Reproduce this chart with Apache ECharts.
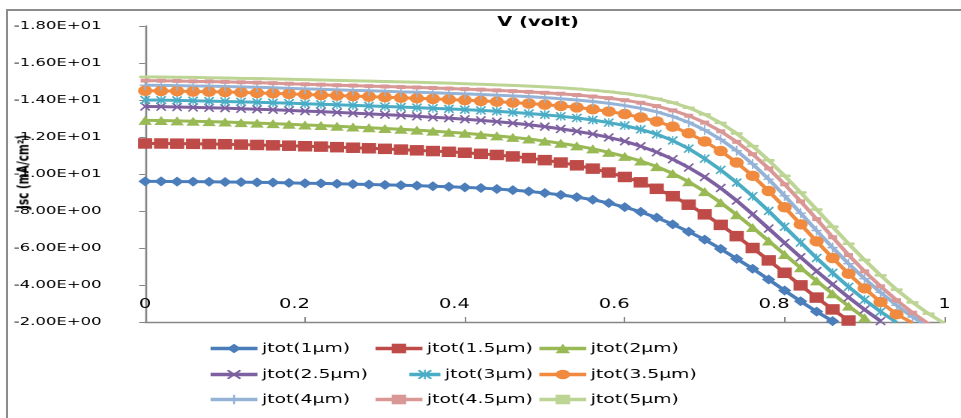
<!DOCTYPE html>
<html><head><meta charset="utf-8">
<script src="https://cdn.jsdelivr.net/npm/echarts@6/dist/echarts.min.js"></script>
<style>
html,body{margin:0;padding:0;background:#fff;overflow:hidden;width:961px;height:418px;position:relative}
#wrap{position:absolute;left:0;top:0;width:641px;height:418px;transform:scaleX(1.49922);transform-origin:0 0}
#chart{width:641px;height:418px}
#ytitle{position:absolute;left:14.7px;top:172px;transform:translate(-50%,-50%) rotate(-90deg);white-space:nowrap;
  font-family:'DejaVu Sans',sans-serif;font-weight:bold;font-size:10.5px;color:#000;pointer-events:none}
#frame{position:absolute;left:6px;top:9px;width:2000px;height:1000px;border-left:2px solid #8c8c8c;border-top:2px solid #8c8c8c;pointer-events:none}
</style>
</head><body><div id="wrap"><div id="chart"></div><div id="ytitle">Jsc (mA/cm²)</div></div><div id="frame"></div>
<script>
// ---- data ----
const voltage = [0,0.02,0.04,0.06,0.08,0.1,0.12,0.14,0.16,0.18,0.2,0.22,0.24,0.26,0.28,0.3,0.32,0.34,0.36,0.38,0.4,0.42,0.44,0.46,0.48,0.5,0.52,0.54,0.56,0.58,0.6,0.62,0.64,0.66,0.68,0.7,0.72,0.74,0.76,0.78,0.8,0.82,0.84,0.86,0.88,0.9,0.92,0.94,0.96,0.98,1];
const seriesNames = ['jtot(1µm)','jtot(1.5µm)','jtot(2µm)','jtot(2.5µm)','jtot(3µm)','jtot(3.5µm)','jtot(4µm)','jtot(4.5µm)','jtot(5µm)'];
const jtot1 = [-9.60,-9.60,-9.59,-9.59,-9.58,-9.57,-9.56,-9.55,-9.54,-9.52,
 -9.50,-9.49,-9.47,-9.45,-9.43,-9.41,-9.39,-9.37,-9.34,-9.31,
 -9.28,-9.24,-9.19,-9.13,-9.06,-8.97,-8.87,-8.75,-8.61,-8.43,
 -8.21,-7.95,-7.64,-7.28,-6.88,-6.45,-5.95,-5.42,-4.88,-4.30,
 -3.70,-3.12,-2.56,-2.05];
const jtot15 = [-11.65,-11.65,-11.64,-11.63,-11.62,-11.61,-11.59,-11.57,-11.55,-11.53,
 -11.50,-11.48,-11.45,-11.42,-11.39,-11.36,-11.32,-11.28,-11.24,-11.20,
 -11.15,-11.09,-11.03,-10.95,-10.86,-10.75,-10.62,-10.47,-10.29,-10.08,
 -9.84,-9.55,-9.20,-8.80,-8.34,-7.82,-7.25,-6.64,-6.00,-5.33,
 -4.66,-3.98,-3.32,-2.68,-2.08];
const jtot2 = [-12.90,-12.89,-12.87,-12.85,-12.83,-12.81,-12.78,-12.75,-12.72,-12.69,
 -12.65,-12.62,-12.58,-12.54,-12.50,-12.46,-12.42,-12.37,-12.32,-12.26,
 -12.20,-12.13,-12.06,-11.98,-11.89,-11.78,-11.66,-11.52,-11.36,-11.17,
 -10.95,-10.70,-10.40,-10.03,-9.58,-9.05,-8.45,-7.80,-7.11,-6.38,
 -5.65,-4.93,-4.22,-3.53,-2.86,-2.22];
const jtot25 = [-13.65,-13.64,-13.62,-13.60,-13.58,-13.56,-13.53,-13.50,-13.47,-13.44,
 -13.40,-13.37,-13.33,-13.29,-13.25,-13.21,-13.17,-13.12,-13.07,-13.02,
 -12.96,-12.90,-12.83,-12.75,-12.66,-12.56,-12.44,-12.31,-12.16,-11.98,
 -11.77,-11.50,-11.18,-10.80,-10.35,-9.84,-9.24,-8.56,-7.82,-7.05,
 -6.27,-5.50,-4.75,-4.03,-3.33,-2.67,-2.05];
const jtot3 = [-14.00,-13.99,-13.98,-13.96,-13.94,-13.92,-13.90,-13.88,-13.85,-13.83,
 -13.80,-13.77,-13.74,-13.71,-13.68,-13.65,-13.62,-13.59,-13.55,-13.52,
 -13.48,-13.44,-13.39,-13.33,-13.27,-13.20,-13.12,-13.03,-12.92,-12.78,
 -12.62,-12.41,-12.15,-11.81,-11.37,-10.83,-10.22,-9.54,-8.80,-8.00,
 -7.15,-6.30,-5.46,-4.66,-3.90,-3.20,-2.56,-1.98];
const jtot35 = [-14.50,-14.49,-14.48,-14.46,-14.45,-14.43,-14.41,-14.38,-14.36,-14.33,
 -14.30,-14.27,-14.24,-14.21,-14.18,-14.15,-14.12,-14.09,-14.06,-14.03,
 -13.99,-13.95,-13.91,-13.86,-13.81,-13.75,-13.68,-13.60,-13.50,-13.38,
 -13.24,-13.06,-12.84,-12.56,-12.20,-11.76,-11.24,-10.62,-9.90,-9.08,
 -8.20,-7.28,-6.36,-5.46,-4.61,-3.82,-3.08,-2.42,-1.95];
const jtot4 = [-14.80,-14.79,-14.78,-14.76,-14.75,-14.73,-14.71,-14.69,-14.66,-14.63,
 -14.60,-14.58,-14.55,-14.52,-14.50,-14.47,-14.44,-14.42,-14.39,-14.36,
 -14.33,-14.30,-14.26,-14.22,-14.18,-14.13,-14.07,-14.00,-13.92,-13.82,
 -13.70,-13.55,-13.36,-13.11,-12.79,-12.38,-11.87,-11.26,-10.54,-9.72,
 -8.82,-7.88,-6.94,-6.02,-5.15,-4.34,-3.60,-2.90,-2.27,-1.75];
const jtot45 = [-15.05,-15.04,-15.03,-15.01,-15.00,-14.98,-14.96,-14.94,-14.91,-14.88,
 -14.85,-14.83,-14.80,-14.78,-14.75,-14.73,-14.70,-14.68,-14.65,-14.62,
 -14.59,-14.56,-14.52,-14.48,-14.44,-14.39,-14.34,-14.27,-14.19,-14.10,
 -13.99,-13.85,-13.67,-13.44,-13.15,-12.78,-12.31,-11.74,-11.07,-10.30,
 -9.44,-8.52,-7.56,-6.58,-5.62,-4.74,-3.93,-3.18,-2.50,-1.90];
const jtot5 = [-15.25,-15.24,-15.23,-15.22,-15.20,-15.19,-15.17,-15.16,-15.14,-15.12,
 -15.10,-15.08,-15.06,-15.04,-15.02,-15.00,-14.98,-14.96,-14.93,-14.91,
 -14.88,-14.85,-14.82,-14.79,-14.75,-14.71,-14.66,-14.60,-14.53,-14.45,
 -14.35,-14.23,-14.07,-13.86,-13.58,-13.22,-12.76,-12.19,-11.51,-10.74,
 -9.90,-9.00,-8.08,-7.15,-6.23,-5.35,-4.52,-3.75,-3.06,-2.45,-1.92];
const xTickLabels = ['0','0.2','0.4','0.6','0.8','1'];
const yTickLabels = ['-1.80E+01','-1.60E+01','-1.40E+01','-1.20E+01','-1.00E+01','-8.00E+00','-6.00E+00','-4.00E+00','-2.00E+00'];

// ---- styling ----
const allValues = [jtot1, jtot15, jtot2, jtot25, jtot3, jtot35, jtot4, jtot45, jtot5];
const colors = ['#4A7DBA','#BE4B48','#98B954','#7D60A0','#4AACC5','#F08A3E','#95B3D7','#D99795','#BCD494'];
const xPath = 'path://M0,1.2L1.2,0L5,3.8L8.8,0L10,1.2L6.2,5L10,8.8L8.8,10L5,6.2L1.2,10L0,8.8L3.8,5Z';
const starPath = 'path://M0,1.2L1.2,0L5,3.8L8.8,0L10,1.2L6.2,5L10,8.8L8.8,10L5,6.2L1.2,10L0,8.8L3.8,5ZM4.4,0H5.6V10H4.4Z';
const plusPath = 'path://M4.3,0H5.7V4.3H10V5.7H5.7V10H4.3V5.7H0V4.3H4.3Z';
const symbols = ['diamond','rect','triangle',xPath,starPath,'circle',plusPath,'rect','rect'];
const symbolSizes = [[9,10],[9.5,10.5],[9,9],[7,9],[7,9],[9.5,10.5],[7,10],[6,4],[8,2.5]];

const FONT = "'DejaVu Sans', sans-serif";
const series = allValues.map((vals, k) => ({
  type: 'line',
  name: seriesNames[k],
  data: vals.map((v, i) => [voltage[i], v]),
  symbol: symbols[k],
  symbolSize: symbolSizes[k],
  showSymbol: true,
  showAllSymbol: true,
  clip: true,
  lineStyle: { width: 3, color: colors[k] },
  itemStyle: { color: colors[k], borderWidth: 0 },
  emphasis: { disabled: true },
  animation: false
}));

// legend cells: [left, top, itemWidth]
const legendCells = [
  [138.7, 343, 31.3], [248.7, 343, 31.3], [358, 343, 31.3],
  [138.7, 369, 31.3], [271.3, 369, 20.7], [358, 369, 31.3],
  [138.7, 394, 31.3], [248.7, 394, 31.3], [358, 394, 31.3]
];
const legends = seriesNames.map((n, k) => ({
  data: [n],
  left: legendCells[k][0], top: legendCells[k][1] - 1,
  itemWidth: legendCells[k][2], itemHeight: 12, itemGap: 0, padding: 0,
  selectedMode: false,
  lineStyle: { width: 3.5 },
  textStyle: { fontFamily: FONT, fontSize: 12.5, color: '#000', padding: [0, 0, 0, -2] }
}));

const chart = echarts.init(document.getElementById('chart'), null, { renderer: 'canvas', devicePixelRatio: 2 });
chart.setOption({
  animation: false,
  backgroundColor: 'transparent',
  color: colors,
  grid: { left: 96.8, right: 11, top: 26, bottom: 96, containLabel: false, outerBoundsMode: 'none' },
  xAxis: {
    type: 'value', min: 0, max: 1, interval: 0.2, position: 'bottom',
    name: 'V (volt)', nameLocation: 'middle', nameGap: -306, nameMoveOverlap: false,
    nameTextStyle: { fontFamily: FONT, fontSize: 13, fontWeight: 'bold', color: '#000', padding: [0, 9, 0, 0] },
    axisLine: { onZero: false, lineStyle: { color: '#868686', width: 1.4 } },
    axisTick: { inside: true, length: 5, lineStyle: { color: '#868686', width: 1 } },
    axisLabel: { inside: true, margin: 11, fontFamily: FONT, fontSize: 13, color: '#000',
      formatter: v => {
        const t = xTickLabels[Math.round(v / 0.2)];
        return t.length > 1 ? '{m|' + t + '}' : t;
      },
      rich: { m: { fontFamily: FONT, fontSize: 13, color: '#000', padding: [0, 14, 0, 0] } } },
    splitLine: { show: false }
  },
  yAxis: {
    type: 'value', min: -18, max: -2, interval: 2, inverse: true,
    axisLine: { show: true, lineStyle: { color: '#868686', width: 1.3 } },
    axisTick: { show: true, length: 4, lineStyle: { color: '#868686', width: 1 } },
    axisLabel: { margin: 29, fontFamily: FONT, fontSize: 11, color: '#000',
      formatter: v => yTickLabels[Math.round((v + 18) / 2)] },
    splitLine: { show: false }
  },
  legend: legends,
  series: series
});
</script>
</body></html>
